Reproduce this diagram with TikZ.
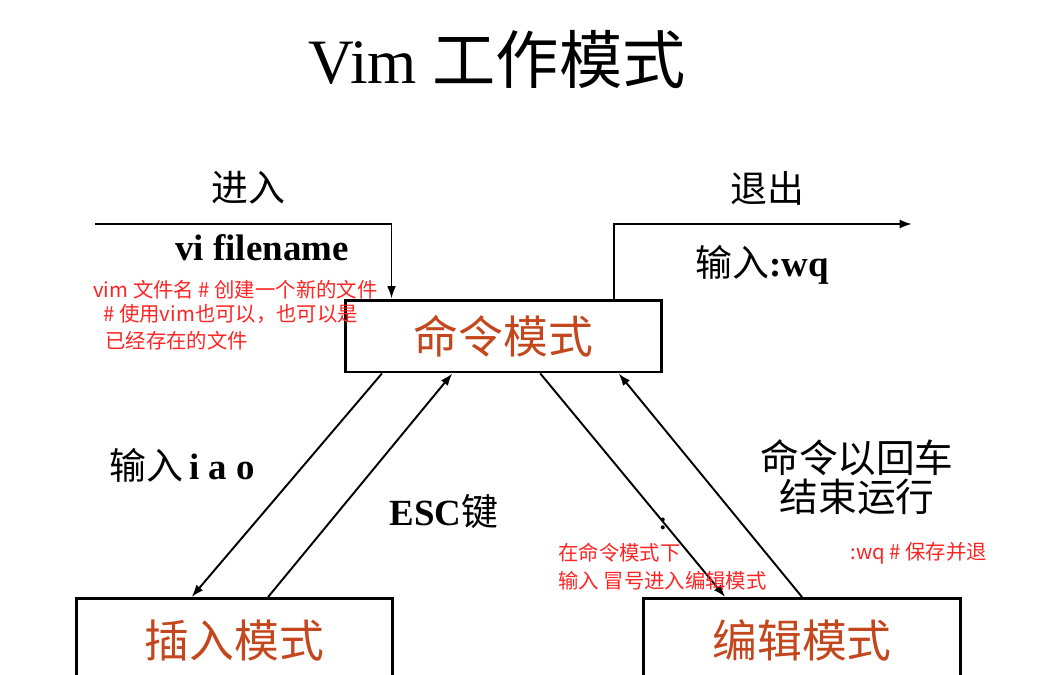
\documentclass[tikz,border=0pt]{standalone}
\usepackage{fontspec}
\setmainfont{Liberation Serif}
\newfontfamily\cjk{Noto Sans CJK SC}
\usetikzlibrary{arrows.meta,calc}

\definecolor{modecolor}{RGB}{196,70,28}
\definecolor{notered}{RGB}{255,36,36}

\newcommand{\titlesize}{\fontsize{36pt}{40pt}\selectfont}
\newcommand{\modesize}{\fontsize{25.5pt}{28pt}\selectfont}
\newcommand{\labelsize}{\fontsize{21pt}{22pt}\selectfont}
\newcommand{\notesize}{\fontsize{11.6pt}{13pt}\selectfont}

\tikzset{
  modebox/.style={draw, line width=1.7pt, inner sep=0pt, text=modecolor,
    font=\cjk\modesize, minimum width=6.34cm},
  flow/.style={line width=1.1pt, -{Latex[length=7pt,width=5pt]}},
  plainlabel/.style={font=\labelsize, inner sep=0pt},
  note/.style={font=\cjk\notesize, text=notered, anchor=west, inner sep=0pt}
}

\begin{document}
\begin{tikzpicture}[x=0.02cm, y=-0.02cm]

    \useasboundingbox (0,0) rectangle (1049,674);
    \clip (0,0) rectangle (1049,674);

    % Title
    \node[font=\titlesize, inner sep=0pt] (title) at (497,60) {Vim {\cjk 工作模式}};

    % --------------------------------------------------
    % Mode boxes
    % --------------------------------------------------
    \node[modebox, minimum height=1.44cm] (cmd) at (503.5,336) {命令模式};
    \node[modebox, anchor=north, text height=1.18cm, text depth=2cm] (insert) at (234.5,597) {插入模式};
    \node[modebox, anchor=north, text height=1.18cm, text depth=2cm] (edit) at (802,597) {编辑模式};

    % --------------------------------------------------
    % Enter and quit
    % --------------------------------------------------
    \coordinate (enter) at (95,224);
    \coordinate (quit) at (912,224);
    \draw[flow] (enter) -| ($(cmd.north west)!0.15!(cmd.north east)$);
    \draw[flow] ($(cmd.north west)!0.845!(cmd.north east)$) |- (quit);

    \node[plainlabel, font=\cjk\labelsize] (enterlabel) at (248,188) {进入};
    \node[plainlabel, font=\bfseries\labelsize] (vilabel) at (262,248) {vi filename};
    \node[plainlabel, font=\cjk\labelsize] (quitlabel) at (767,188) {退出};
    \node[plainlabel] (wqlabel) at (762,265) {{\cjk 输入}\textbf{:wq}};

    % --------------------------------------------------
    % Switching between modes
    % --------------------------------------------------
    \draw[flow] ($(cmd.south west)!0.12!(cmd.south east)$) -- ($(insert.north west)!0.366!(insert.north east)$);
    \draw[flow] ($(insert.north west)!0.605!(insert.north east)$) -- ($(cmd.south west)!0.34!(cmd.south east)$);
    \draw[flow] ($(cmd.south west)!0.615!(cmd.south east)$) -- ($(edit.north west)!0.26!(edit.north east)$);
    \draw[flow] ($(edit.north west)!0.5!(edit.north east)$) -- ($(cmd.south west)!0.86!(cmd.south east)$);

    \node[plainlabel] (iaolabel) at (182,465) {{\cjk 输入}\,\textbf{i a o}};
    \node[plainlabel] (esclabel) at (444,512) {\textbf{ESC}{\cjk 键}};
    \node[plainlabel, font=\cjk\fontsize{22pt}{22.3pt}\selectfont, align=center] (runlabel) at (857,477) {命令以回车\\结束运行};
    \node[plainlabel, font=\bfseries\fontsize{14pt}{14pt}\selectfont] (colon) at (663,524) {:};

    % Red notes
    \node[note] (note1) at (93,290) {vim 文件名 \# 创建一个新的文件};
    \node[note] (note2) at (103,314) {\# 使用vim也可以，也可以是};
    \node[note] (note3) at (105,341) {已经存在的文件};
    \node[note] (note4) at (558,553) {在命令模式下};
    \node[note] (note5) at (558,581) {输入 冒号进入编辑模式};
    \node[note] (note6) at (850,553) {:wq \# 保存并退};

\end{tikzpicture}
\end{document}
